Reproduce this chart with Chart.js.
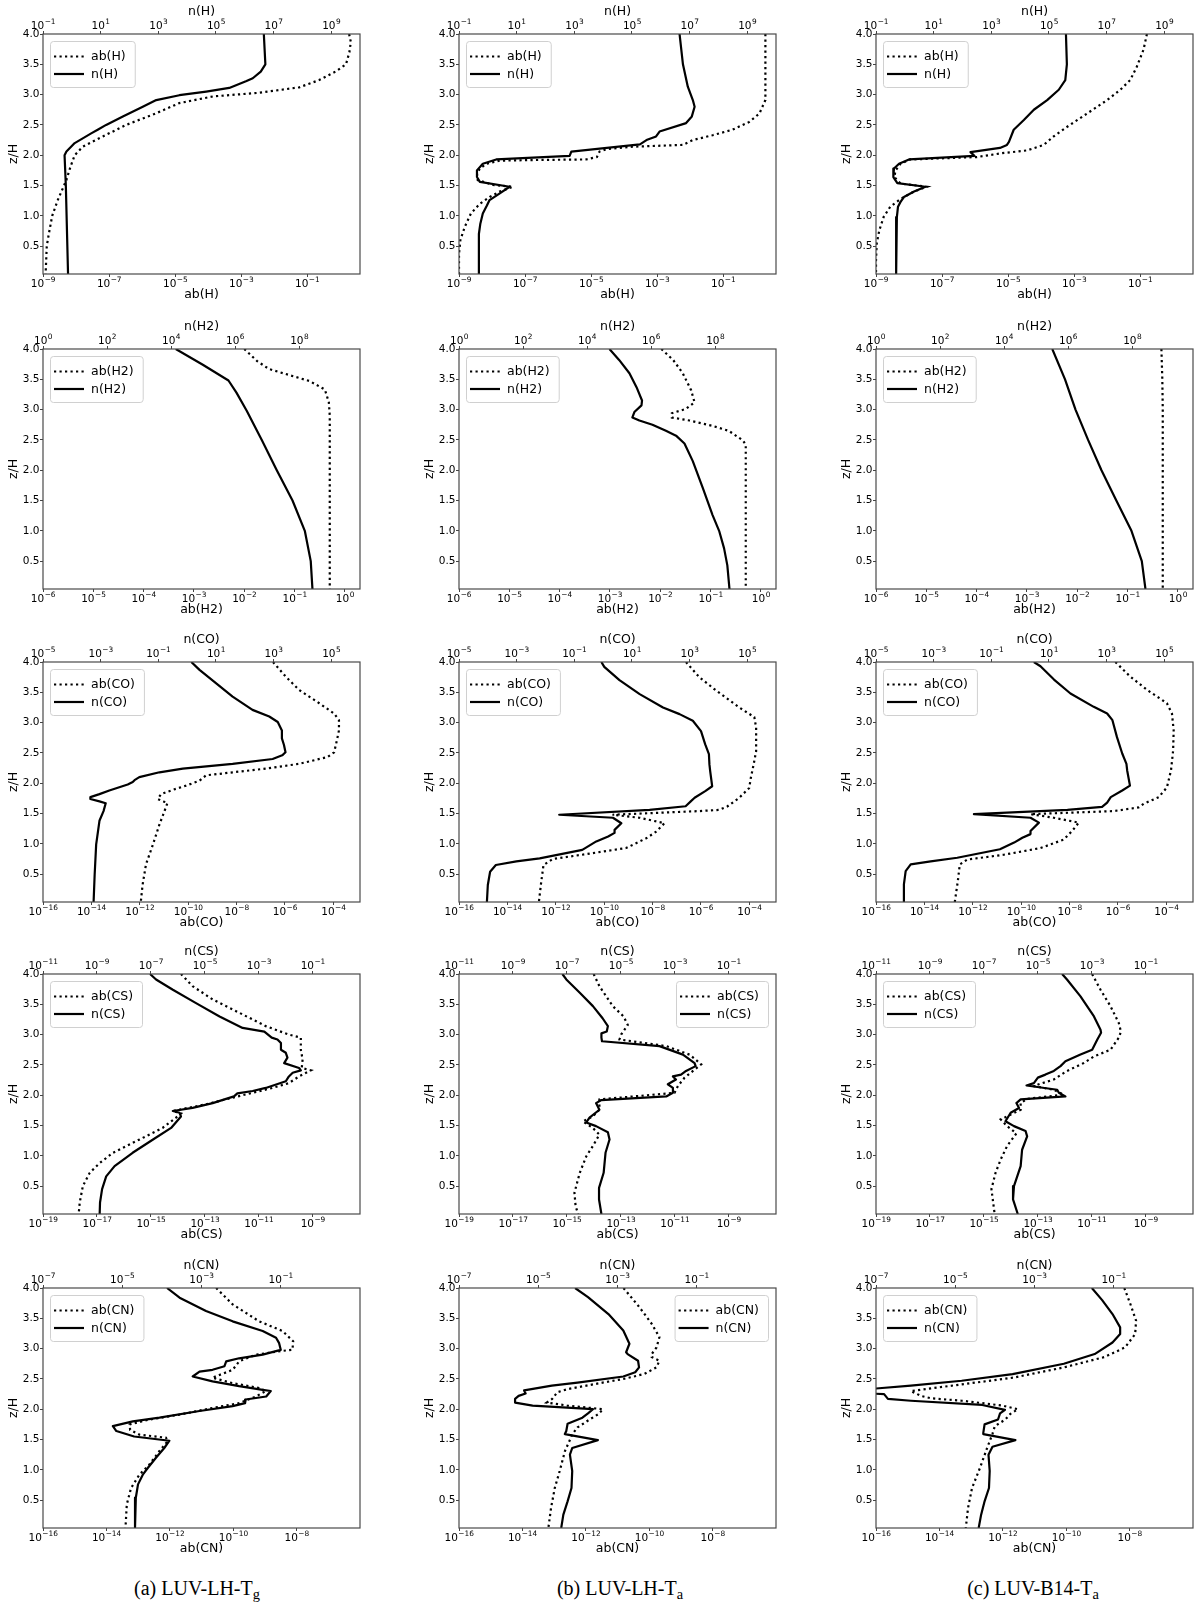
<!DOCTYPE html>
<html><head><meta charset="utf-8">
<script src="https://cdn.jsdelivr.net/npm/chart.js@4.4.1/dist/chart.umd.min.js"></script>
<style>
html,body{margin:0;padding:0;background:#fff;}
body{width:1200px;height:1606px;position:relative;overflow:hidden;}
canvas{position:absolute;}
.cap{position:absolute;font-family:'Liberation Serif','Times New Roman',serif;font-size:20px;line-height:24px;color:#000;transform:translateX(-50%);white-space:nowrap;}
.cap sub{font-size:0.72em;vertical-align:-0.28em;line-height:0;}
</style></head><body>
<script>
// ---------------- DATA : [z/H, value] ----------------
// Row 1 : H   (ab on bottom axis, n on top axis)
const abH_a = [[4.0,1.86],[3.87,2.1],[3.7,1.9],[3.5,1.5],[3.38,0.72],[3.24,0.23],[3.12,0.058],[3.03,3.5e-3],[2.97,1.4e-4],[2.86,1.35e-5],[2.69,2.6e-6],[2.5,3.3e-7],[2.31,6.5e-8],[2.14,1.6e-8],[2.0,9.1e-9],[1.81,6.8e-9],[1.59,5.1e-9],[1.26,2.8e-9],[1.0,1.9e-9],[0.7,1.5e-9],[0.5,1.3e-9],[0.04,1.2e-9]];
const nH_a = [[4.0,4.6e6],[3.5,5.2e6],[3.38,3.6e6],[3.27,1.9e6],[3.22,1.1e6],[3.11,2.9e5],[3.05,4.6e4],[2.99,5.4e3],[2.91,850],[2.8,290],[2.64,59],[2.5,15.5],[2.42,7.9],[2.36,4.7],[2.2,1.26],[2.06,0.65],[2.0,0.56],[1.5,0.62],[0.04,0.74]];
const abH_b = [[4.0,1.9],[2.91,1.9],[2.69,1.26],[2.55,0.62],[2.42,0.19],[2.33,0.048],[2.25,0.012],[2.17,6e-3],[2.14,1.8e-4],[2.1,2.9e-5],[2.06,1.8e-5],[1.97,1.5e-5],[1.93,7e-6],[1.92,1.7e-7],[1.91,1.7e-8],[1.86,6.8e-9],[1.78,4.3e-9],[1.7,3.5e-9],[1.59,3.7e-9],[1.51,1.07e-8],[1.48,4.3e-8],[1.4,1.7e-8],[1.31,8.5e-9],[1.2,4.3e-9],[1.04,2.3e-9],[0.82,1.5e-9],[0.6,1.1e-9],[0.37,1.0e-9],[0.04,1.0e-9]];
const nH_b = [[4.0,4.5e6],[3.5,5.9e6],[3.13,8.7e6],[2.91,1.3e7],[2.8,1.5e7],[2.64,1.2e7],[2.53,7.6e6],[2.39,9.1e5],[2.31,6.9e5],[2.25,3.2e5],[2.18,1.9e5],[2.06,790],[1.99,690],[1.93,1.96],[1.86,0.67],[1.75,0.42],[1.64,0.42],[1.56,0.53],[1.48,5.7],[1.37,2.6],[1.26,1.15],[1.17,0.93],[1.04,0.67],[0.87,0.55],[0.7,0.49],[0.04,0.49]];
const abH_c = [[4.0,0.16],[3.74,0.126],[3.46,0.079],[3.24,0.05],[3.08,0.025],[2.91,0.01],[2.69,2.5e-3],[2.47,6.2e-4],[2.31,2.4e-4],[2.17,1.2e-4],[2.08,3.8e-5],[2.03,5.9e-6],[1.97,1.15e-6],[1.93,1.1e-8],[1.86,5.6e-9],[1.75,3.9e-9],[1.64,3.6e-9],[1.53,5.6e-9],[1.48,3.5e-8],[1.4,1.4e-8],[1.28,5.6e-9],[1.15,2.7e-9],[0.98,1.7e-9],[0.76,1.26e-9],[0.54,1.05e-9],[0.26,1.0e-9],[0.04,1.0e-9]];
const nH_c = [[4.0,3.9e5],[3.5,4.2e5],[3.24,3.7e5],[3.08,2.2e5],[2.91,8.7e4],[2.75,3.0e4],[2.58,1.35e4],[2.42,6e3],[2.22,4.1e3],[2.17,3.5e3],[2.12,2e3],[2.05,190],[1.99,260],[1.93,1.4],[1.86,0.63],[1.78,0.42],[1.64,0.4],[1.54,0.55],[1.48,5.2],[1.4,2.1],[1.31,0.93],[1.23,0.71],[1.15,0.58],[0.98,0.53],[0.82,0.5],[0.04,0.5]];
// Row 2 : H2
const abH2_a = [[4.0,0.01],[3.8,0.018],[3.67,0.031],[3.47,0.2],[3.33,0.4],[3.12,0.48],[2.9,0.5],[0.04,0.5]];
const nH2_a = [[4.0,1.4e4],[3.74,9.8e4],[3.48,6.2e5],[3.28,1.1e6],[2.98,2.3e6],[2.5,6.8e6],[2.0,2e7],[1.5,6.2e7],[1.0,1.5e8],[0.5,2.3e8],[0.04,2.6e8]];
const abH2_b = [[4.0,0.0105],[3.82,0.018],[3.6,0.028],[3.32,0.041],[3.12,0.048],[3.01,0.032],[2.94,0.017],[2.87,0.017],[2.82,0.038],[2.73,0.11],[2.65,0.23],[2.49,0.44],[2.42,0.5],[0.04,0.5]];
const nH2_b = [[4.0,5.0e4],[3.82,1.0e5],[3.6,2.1e5],[3.37,3.5e5],[3.15,5.2e5],[3.07,5.0e5],[2.96,3.0e5],[2.87,2.6e5],[2.82,4.3e5],[2.75,1.1e6],[2.65,2.9e6],[2.57,6.0e6],[2.44,1.1e7],[2.15,2.0e7],[1.71,4.1e7],[1.26,8.3e7],[0.99,1.35e8],[0.71,1.9e8],[0.43,2.4e8],[0.04,2.8e8]];
const abH2_c = [[4.0,0.47],[3.5,0.49],[3.0,0.5],[0.04,0.5]];
const nH2_c = [[4.0,3.2e5],[3.5,8e5],[3.0,1.7e6],[2.5,4.2e6],[2.0,1.1e7],[1.5,3.2e7],[1.0,9.5e7],[0.5,2.0e8],[0.04,2.6e8]];
// Row 3 : CO
const abCO_a = [[4.0,3.2e-7],[3.76,1.07e-6],[3.54,3.8e-6],[3.32,2.6e-5],[3.15,1.07e-4],[3.04,1.7e-4],[2.87,1.7e-4],[2.65,1.3e-4],[2.51,1.07e-4],[2.43,5.6e-5],[2.32,3.8e-6],[2.24,1.6e-7],[2.18,6.9e-9],[2.13,5.5e-10],[2.04,2.9e-10],[1.96,8.1e-11],[1.89,2.3e-11],[1.82,7.6e-12],[1.74,5.5e-12],[1.7,8.9e-12],[1.68,1.4e-11],[1.54,1.05e-11],[1.32,6.5e-12],[0.99,3.5e-12],[0.66,1.8e-12],[0.32,1.3e-12],[0.04,1.1e-12]];
const nCO_a = [[4.0,1.4],[3.87,2.7],[3.65,10],[3.43,38],[3.21,186],[3.1,710],[3.01,1.4e3],[2.87,1.95e3],[2.74,1.95e3],[2.63,2.3e3],[2.51,2.6e3],[2.46,2e3],[2.4,930],[2.32,38],[2.24,0.71],[2.18,0.11],[2.1,0.022],[2.05,0.015],[2.02,0.013],[1.98,8.7e-3],[1.88,2e-3],[1.82,9.1e-4],[1.77,4.4e-4],[1.74,4.4e-4],[1.7,9.1e-4],[1.67,1.5e-3],[1.54,1.26e-3],[1.38,9.1e-4],[0.99,7e-4],[0.49,6.2e-4],[0.04,5.7e-4]];
const abCO_b = [[4.0,2.4e-7],[3.75,8.5e-7],[3.53,4.2e-6],[3.25,3.8e-5],[3.09,1.6e-4],[2.92,1.9e-4],[2.53,1.9e-4],[2.31,1.5e-4],[2.09,1.15e-4],[1.92,9.8e-5],[1.76,3.8e-5],[1.62,1.26e-5],[1.56,5.7e-6],[1.54,8.5e-7],[1.48,2.2e-10],[1.43,2.9e-9],[1.34,3.1e-8],[1.2,1.4e-8],[1.09,5.4e-9],[0.93,8e-10],[0.83,1.8e-11],[0.75,7.5e-13],[0.65,3.1e-13],[0.37,2.5e-13],[0.04,2e-13]];
const nCO_b = [[4.0,0.87],[3.92,1.1],[3.7,3.7],[3.47,18.6],[3.25,120],[3.14,450],[3.03,1.3e3],[2.86,2.5e3],[2.64,3.5e3],[2.48,4.7e3],[2.31,4.9e3],[2.2,5.2e3],[1.95,6.1e3],[1.87,3.5e3],[1.76,1.5e3],[1.7,1.1e3],[1.62,730],[1.56,41],[1.48,0.03],[1.43,2.2],[1.34,4.3],[1.23,2.5],[1.18,2.5],[1.12,1.5],[1.04,0.58],[0.9,0.19],[0.76,6.3e-3],[0.71,9.8e-4],[0.65,1.9e-4],[0.54,1.2e-4],[0.32,1.0e-4],[0.04,9.3e-5]];
const abCO_c = [[4.0,7.8e-7],[3.76,3.2e-6],[3.54,1.6e-5],[3.32,1.05e-4],[3.15,1.7e-4],[2.87,2e-4],[2.54,1.9e-4],[2.21,1.55e-4],[1.93,1.05e-4],[1.77,4.8e-5],[1.66,1.15e-5],[1.6,7.1e-6],[1.54,6.6e-7],[1.49,2.4e-10],[1.43,2.2e-9],[1.35,2.4e-8],[1.21,1.26e-8],[1.07,5.7e-9],[0.93,6.3e-10],[0.82,1.9e-11],[0.74,5.9e-13],[0.66,2.9e-13],[0.38,2.4e-13],[0.04,1.8e-13]];
const nCO_c = [[4.0,3.0],[3.93,5.1],[3.71,15],[3.48,56],[3.26,360],[3.15,1.05e3],[3.04,1.6e3],[2.76,2.3e3],[2.49,3.5e3],[2.32,4.9e3],[2.21,5.2e3],[1.96,6.5e3],[1.88,3.5e3],[1.77,1.4e3],[1.68,1.05e3],[1.61,700],[1.56,44],[1.49,0.025],[1.43,2.3],[1.35,4.5],[1.21,2.3],[1.16,2.3],[1.1,1.2],[1.02,0.62],[0.91,0.2],[0.77,6.6e-3],[0.71,7.9e-4],[0.66,1.6e-4],[0.55,1.07e-4],[0.33,9.3e-5],[0.04,9.3e-5]];
// Row 4 : CS
const abCS_a = [[4.0,1.3e-14],[3.8,3.5e-14],[3.58,1.95e-13],[3.36,1.9e-12],[3.14,1.8e-11],[3.0,1.3e-10],[2.95,3.6e-10],[2.75,3.6e-10],[2.59,4.2e-10],[2.45,3.9e-10],[2.41,8.5e-10],[2.31,3.1e-10],[2.2,1.3e-10],[2.12,3.2e-11],[2.04,5.9e-12],[1.96,1.07e-12],[1.85,1.1e-13],[1.74,6.5e-15],[1.7,1.3e-14],[1.63,8.5e-15],[1.46,2.7e-15],[1.27,3.8e-16],[1.05,3.9e-17],[0.88,1.26e-17],[0.72,5.4e-18],[0.5,3e-18],[0.23,2.3e-18],[0.04,2.1e-18]];
const nCS_a = [[4.0,9.3e-8],[3.91,1.55e-7],[3.74,6.5e-7],[3.52,4.7e-6],[3.3,3.5e-5],[3.11,2.5e-4],[3.05,1.6e-3],[2.95,3e-3],[2.92,4.9e-3],[2.86,6.6e-3],[2.75,6.6e-3],[2.7,0.01],[2.62,0.0115],[2.53,8.7e-3],[2.45,0.031],[2.41,0.036],[2.37,0.018],[2.31,0.013],[2.23,0.01],[2.12,1.8e-3],[2.07,5.9e-4],[2.03,1.6e-4],[1.98,1.2e-4],[1.87,1.95e-5],[1.79,3.5e-6],[1.74,6.5e-7],[1.71,1.15e-6],[1.65,1.3e-6],[1.46,5.6e-7],[1.27,1.2e-7],[1.05,2.1e-8],[0.83,4.5e-9],[0.66,2.2e-9],[0.45,1.55e-9],[0.23,1.3e-9],[0.04,1.26e-9]];
const abCS_b = [[4.0,9.8e-15],[3.8,1.6e-14],[3.47,5e-14],[3.3,1.26e-13],[3.16,1.8e-13],[3.0,1.02e-13],[2.92,8.9e-14],[2.81,4.8e-12],[2.67,3.5e-11],[2.51,9.5e-11],[2.4,4.7e-11],[2.29,2.3e-11],[2.15,1.3e-11],[2.04,9.8e-12],[1.93,1.6e-14],[1.76,1.6e-14],[1.65,9.1e-15],[1.57,3.9e-15],[1.46,9.1e-15],[1.35,1.6e-14],[1.16,9.1e-15],[0.99,5.2e-15],[0.72,3e-15],[0.39,1.9e-15],[0.17,2.1e-15],[0.04,2.6e-15]];
const nCS_b = [[4.0,6.8e-8],[3.91,9.5e-8],[3.69,3e-7],[3.47,9.2e-7],[3.27,2.1e-6],[3.14,3.3e-6],[3.05,3e-6],[3.02,1.9e-6],[2.95,1.9e-6],[2.89,2e-6],[2.81,2.7e-4],[2.67,2e-3],[2.53,5.4e-3],[2.48,5.9e-3],[2.4,2.6e-3],[2.34,1.7e-3],[2.31,8.5e-4],[2.26,1.1e-3],[2.18,5.5e-4],[2.12,8.5e-4],[2.04,8.5e-4],[1.98,4.8e-4],[1.92,1.9e-6],[1.87,1.2e-6],[1.76,1.6e-6],[1.63,6.9e-7],[1.55,5.2e-7],[1.49,1.2e-6],[1.39,3.3e-6],[1.27,3.8e-6],[1.05,2.7e-6],[0.72,2.3e-6],[0.47,1.55e-6],[0.28,1.55e-6],[0.04,1.9e-6]];
const abCS_c = [[4.0,1.02e-11],[3.74,2.1e-11],[3.47,4.9e-11],[3.19,1.0e-10],[3.05,1.2e-10],[2.95,1.0e-10],[2.75,4.9e-11],[2.64,1.2e-11],[2.53,5e-12],[2.4,1.2e-12],[2.26,3.9e-13],[2.19,1.26e-13],[2.15,7.1e-14],[2.09,3.9e-13],[2.01,9.1e-13],[1.94,4e-14],[1.87,2.3e-14],[1.76,2.3e-14],[1.6,4.2e-15],[1.49,7.2e-15],[1.37,1.6e-14],[1.16,7.2e-15],[0.94,4.2e-15],[0.72,2.7e-15],[0.45,1.9e-15],[0.23,2.2e-15],[0.04,2.5e-15]];
const nCS_c = [[4.0,7.9e-5],[3.91,1.2e-4],[3.63,3.8e-4],[3.3,1.2e-3],[3.08,2.1e-3],[3.03,2.2e-3],[2.92,1.6e-3],[2.75,1.03e-3],[2.67,3.8e-4],[2.56,1.05e-4],[2.48,6.9e-5],[2.4,3.9e-5],[2.34,1.9e-5],[2.29,1e-5],[2.2,7.1e-6],[2.16,3.8e-6],[2.09,5.2e-5],[2.04,6e-5],[1.98,1.05e-4],[1.93,2.3e-6],[1.87,1.6e-6],[1.79,2e-6],[1.71,9.8e-7],[1.57,6.3e-7],[1.49,1.3e-6],[1.41,3.5e-6],[1.32,4e-6],[1.1,2.6e-6],[0.83,2.3e-6],[0.5,1.3e-6],[0.28,1.2e-6],[0.04,1.8e-6]];
// Row 5 : CN
const abCN_a = [[4.0,2.9e-11],[3.73,9.6e-11],[3.45,6.6e-10],[3.29,3.6e-9],[3.12,7.8e-9],[2.98,7.4e-9],[2.96,3.2e-9],[2.9,5.2e-10],[2.79,1.55e-10],[2.65,9.6e-11],[2.52,2.2e-11],[2.43,9.6e-11],[2.35,6.6e-10],[2.3,1.07e-9],[2.21,5.2e-10],[2.1,1.55e-10],[2.02,2.2e-11],[1.91,2e-12],[1.83,2.3e-13],[1.75,5.4e-14],[1.66,5.6e-14],[1.58,1.1e-13],[1.53,7.6e-13],[1.47,8.5e-13],[1.31,4.7e-13],[1.09,2.3e-13],[0.92,1.1e-13],[0.7,6e-14],[0.43,4.4e-14],[0.04,4e-14]];
const nCN_a = [[4.0,1.35e-4],[3.84,2.8e-4],[3.62,1.3e-3],[3.45,6.1e-3],[3.29,0.035],[3.18,0.076],[3.09,0.091],[2.98,0.1],[2.9,0.035],[2.84,8.9e-3],[2.79,4.2e-3],[2.71,3.8e-3],[2.65,1.9e-3],[2.62,8.9e-4],[2.54,6e-4],[2.46,1.9e-3],[2.38,8.9e-3],[2.32,0.035],[2.3,0.056],[2.21,0.043],[2.16,0.013],[2.1,0.0126],[2.05,6.1e-3],[1.97,8.9e-4],[1.86,8.7e-5],[1.8,1.85e-5],[1.72,5.8e-6],[1.64,7.1e-6],[1.55,2.0e-5],[1.48,1.55e-4],[1.36,1.15e-4],[1.2,7.1e-5],[1.03,4.4e-5],[0.92,3.3e-5],[0.76,2.5e-5],[0.54,2.2e-5],[0.26,2.1e-5],[0.04,2.1e-5]];
const abCN_b = [[4.0,1.55e-11],[3.69,4.8e-11],[3.41,1.2e-10],[3.19,2.1e-10],[3.02,1.7e-10],[2.91,1.2e-10],[2.86,1.2e-10],[2.8,2.1e-10],[2.69,1.7e-10],[2.58,6.9e-11],[2.5,1.55e-11],[2.41,1.7e-12],[2.33,2.6e-13],[2.28,1.26e-13],[2.17,8.7e-14],[2.11,5.9e-14],[2.06,2.6e-13],[2.0,3.5e-12],[1.92,2.5e-12],[1.81,1.15e-12],[1.7,5.5e-13],[1.59,3.8e-13],[1.31,2.2e-13],[0.98,1.5e-13],[0.7,1.05e-13],[0.37,8e-14],[0.04,6.6e-14]];
const nCN_b = [[4.0,8.5e-5],[3.85,1.8e-4],[3.57,5.9e-4],[3.3,1.4e-3],[3.08,2e-3],[2.94,1.65e-3],[2.91,1.8e-3],[2.8,3.3e-3],[2.69,3.5e-3],[2.61,2.8e-3],[2.54,1.4e-3],[2.44,9.8e-5],[2.39,2.2e-5],[2.31,4.4e-6],[2.26,4.8e-6],[2.22,3.2e-6],[2.17,2.6e-6],[2.11,2.6e-6],[2.06,7.2e-6],[2.0,2.4e-4],[1.93,1.8e-4],[1.86,1.3e-4],[1.76,5.5e-5],[1.64,5.1e-5],[1.59,4.7e-5],[1.49,3.2e-4],[1.36,7.2e-5],[1.25,6.3e-5],[0.98,7.2e-5],[0.7,6.9e-5],[0.48,5.5e-5],[0.26,4.3e-5],[0.04,3.8e-5]];
const abCN_c = [[4.0,6.8e-9],[3.74,1.05e-8],[3.46,1.6e-8],[3.24,1.5e-8],[3.02,7.2e-9],[2.86,1.6e-9],[2.69,8.5e-11],[2.52,2.1e-12],[2.41,5.1e-14],[2.3,1.26e-15],[2.22,2.6e-15],[2.18,5.5e-15],[2.14,5.1e-14],[2.06,9.8e-13],[2.0,3e-12],[1.92,1.7e-12],[1.83,1.2e-12],[1.72,5.6e-13],[1.59,4.7e-13],[1.36,3.2e-13],[1.03,1.9e-13],[0.7,1.07e-13],[0.37,8e-14],[0.04,6.8e-14]];
const nCN_c = [[4.0,0.028],[3.8,0.051],[3.57,0.093],[3.35,0.145],[3.24,0.145],[3.1,0.093],[2.91,0.033],[2.75,5.5e-3],[2.58,2.8e-4],[2.47,1.45e-5],[2.39,7.6e-7],[2.33,6.0e-8],[2.26,6.0e-8],[2.25,1.6e-7],[2.17,2e-7],[2.14,7.6e-7],[2.07,4.8e-5],[1.99,1.8e-4],[1.93,1.35e-4],[1.83,1.2e-4],[1.75,5.5e-5],[1.61,5.1e-5],[1.59,5.1e-5],[1.49,3.3e-4],[1.38,8.7e-5],[1.25,6.9e-5],[0.98,7.4e-5],[0.7,7.1e-5],[0.48,5.5e-5],[0.26,4.5e-5],[0.04,3.9e-5]];

// ---------------- AXES / LABELS ----------------
const speciesList = ['H','H2','CO','CS','CN'];
const abRangeExp = {H:[-9,0.6], H2:[-6,0.3], CO:[-16,-2.9], CS:[-19,-7.25], CN:[-16,-6]};
const nRangeExp  = {H:[-1,10], H2:[0,9.9], CO:[-5,6], CS:[-11,0.75], CN:[-7,1]};
const abTickExp = {H:[-9,-7,-5,-3,-1], H2:[-6,-5,-4,-3,-2,-1,0], CO:[-16,-14,-12,-10,-8,-6,-4], CS:[-19,-17,-15,-13,-11,-9], CN:[-16,-14,-12,-10,-8]};
const nTickExp  = {H:[-1,1,3,5,7,9], H2:[0,2,4,6,8], CO:[-5,-3,-1,1,3,5], CS:[-11,-9,-7,-5,-3,-1], CN:[-7,-5,-3,-1]};
const zTicks = [0.5,1.0,1.5,2.0,2.5,3.0,3.5,4.0];
const zRange = [0.04, 4.0];
const captionMain = ['(a) LUV-LH-T','(b) LUV-LH-T','(c) LUV-B14-T'];
const captionSub = ['g','a','a'];

const abSeries = {H:[abH_a,abH_b,abH_c], H2:[abH2_a,abH2_b,abH2_c], CO:[abCO_a,abCO_b,abCO_c], CS:[abCS_a,abCS_b,abCS_c], CN:[abCN_a,abCN_b,abCN_c]};
const nSeries  = {H:[nH_a,nH_b,nH_c], H2:[nH2_a,nH2_b,nH2_c], CO:[nCO_a,nCO_b,nCO_c], CS:[nCS_a,nCS_b,nCS_c], CN:[nCN_a,nCN_b,nCN_c]};
const legendRight = {'CS1':true, 'CN1':true};

// ---------------- LAYOUT ----------------
const plotLefts = [43, 459, 876];
const plotTops = [34, 349, 662, 974, 1288];
const plotW = 317, plotH = 240;
const yBoxW = 37, topBoxH = 30, botBoxH = 28, rightPad = 6;
const FONT = '"DejaVu Sans"';
const TICK_PX = 10.5, SUP_PX = 7.4, TITLE_PX = 12.5;

Chart.defaults.font.family = "'DejaVu Sans', sans-serif";
Chart.defaults.color = '#000';
Chart.defaults.animation = false;

const framePlugin = {
  id: 'frame',
  afterDatasetsDraw(chart) {
    const {ctx, chartArea: a} = chart;
    ctx.save();
    ctx.strokeStyle = '#4a4a4a';
    ctx.lineWidth = 1.2;
    ctx.strokeRect(a.left, a.top, a.right - a.left, a.bottom - a.top);
    ctx.restore();
  }
};
// mathtext-like "10^e" labels placed at the log scale tick pixels
const mathTickPlugin = {
  id: 'mathTicks',
  afterDraw(chart) {
    const {ctx, chartArea: a} = chart;
    ctx.save();
    ctx.fillStyle = '#000';
    ctx.textAlign = 'left';
    ctx.textBaseline = 'alphabetic';
    ['x', 'x2'].forEach(id => {
      const s = chart.scales[id];
      const isBottom = s.options.position === 'bottom';
      const baseY = isBottom ? a.bottom + 13.3 : a.top - 5.2;
      s.ticks.forEach(t => {
        const px = s.getPixelForValue(t.value);
        const e = Math.round(Math.log10(t.value));
        const es = (e < 0 ? '\u2212' : '') + Math.abs(e);
        ctx.font = TICK_PX + 'px ' + FONT;
        const w1 = ctx.measureText('10').width;
        ctx.font = SUP_PX + 'px ' + FONT;
        const w2 = ctx.measureText(es).width;
        const x0 = px - (w1 + w2) / 2;
        ctx.font = TICK_PX + 'px ' + FONT;
        ctx.fillText('10', x0, baseY);
        ctx.font = SUP_PX + 'px ' + FONT;
        ctx.fillText(es, x0 + w1 + 0.4, baseY - 5);
      });
    });
    ctx.restore();
  }
};
const legendPlugin = {
  id: 'boxLegend',
  afterDraw(chart, args, opts) {
    const {ctx, chartArea: a} = chart;
    ctx.save();
    ctx.font = '12.5px ' + FONT;
    const ds = chart.data.datasets;
    let tw = 0;
    ds.forEach(d => { tw = Math.max(tw, ctx.measureText(d.label).width); });
    const w = 41 + tw + 9, h = 46;
    const x = opts.right ? a.right - 8 - w : a.left + 7;
    const y = a.top + 7;
    ctx.beginPath();
    if (ctx.roundRect) ctx.roundRect(x + 0.5, y + 0.5, w, h, 3); else ctx.rect(x + 0.5, y + 0.5, w, h);
    ctx.fillStyle = 'rgba(255,255,255,0.85)';
    ctx.fill();
    ctx.strokeStyle = '#d0d0d0';
    ctx.lineWidth = 1;
    ctx.stroke();
    ds.forEach((d, i) => {
      const ly = y + 15.5 + i * 17.5;
      ctx.beginPath();
      ctx.setLineDash(d.borderDash || []);
      ctx.lineWidth = d.borderWidth;
      ctx.strokeStyle = d.borderColor;
      ctx.moveTo(x + 4, ly);
      ctx.lineTo(x + 34, ly);
      ctx.stroke();
      ctx.setLineDash([]);
      ctx.fillStyle = '#000';
      ctx.textBaseline = 'middle';
      ctx.textAlign = 'left';
      ctx.fillText(d.label, x + 41, ly + 0.5);
    });
    ctx.restore();
  }
};

function toXY(arr) { return arr.map(p => ({x: p[1], y: p[0]})); }

speciesList.forEach((sp, r) => {
  for (let c = 0; c < 3; c++) {
    const cv = document.createElement('canvas');
    const W = yBoxW + plotW + rightPad, H = topBoxH + plotH + botBoxH;
    cv.width = W; cv.height = H;
    cv.style.left = (plotLefts[c] - yBoxW) + 'px';
    cv.style.top = (plotTops[r] - topBoxH) + 'px';
    cv.style.width = W + 'px'; cv.style.height = H + 'px';
    document.body.appendChild(cv);
    const tickGrid = {display: true, drawOnChartArea: false, drawTicks: true, tickLength: 3, color: '#444', lineWidth: 1};
    new Chart(cv.getContext('2d'), {
      type: 'scatter',
      data: {
        datasets: [
          {label: 'ab(' + sp + ')', data: toXY(abSeries[sp][c]), xAxisID: 'x', yAxisID: 'y', showLine: true,
           borderColor: '#000', borderWidth: 2.2, borderDash: [2.2, 3.3], pointRadius: 0, fill: false, tension: 0},
          {label: 'n(' + sp + ')', data: toXY(nSeries[sp][c]), xAxisID: 'x2', yAxisID: 'y', showLine: true,
           borderColor: '#000', borderWidth: 2.2, borderJoinStyle: 'round', pointRadius: 0, fill: false, tension: 0}
        ]
      },
      options: {
        responsive: false, devicePixelRatio: 1, animation: false,
        layout: {padding: {left: 0, top: 0, right: rightPad, bottom: 0}, autoPadding: false},
        plugins: {legend: {display: false}, tooltip: {enabled: false}, boxLegend: {right: !!legendRight[sp + c]}},
        scales: {
          x: {
            type: 'logarithmic', position: 'bottom',
            min: Math.pow(10, abRangeExp[sp][0]), max: Math.pow(10, abRangeExp[sp][1]),
            afterBuildTicks: s => { s.ticks = abTickExp[sp].map(e => ({value: Math.pow(10, e)})); },
            ticks: {display: false, autoSkip: false},
            grid: tickGrid, border: {display: false},
            title: {display: true, text: 'ab(' + sp + ')', font: {size: TITLE_PX}, padding: 0},
            afterFit: s => { s.height = botBoxH; s.paddingLeft = 0; s.paddingRight = 0; }
          },
          x2: {
            type: 'logarithmic', position: 'top',
            min: Math.pow(10, nRangeExp[sp][0]), max: Math.pow(10, nRangeExp[sp][1]),
            afterBuildTicks: s => { s.ticks = nTickExp[sp].map(e => ({value: Math.pow(10, e)})); },
            ticks: {display: false, autoSkip: false},
            grid: tickGrid, border: {display: false},
            title: {display: true, text: 'n(' + sp + ')', font: {size: TITLE_PX}, padding: 0},
            afterFit: s => { s.height = topBoxH; s.paddingLeft = 0; s.paddingRight = 0; }
          },
          y: {
            type: 'linear', position: 'left', min: zRange[0], max: zRange[1],
            afterBuildTicks: s => { s.ticks = zTicks.map(v => ({value: v})); },
            ticks: {callback: v => Number(v).toFixed(1), autoSkip: false, padding: 0.5, font: {size: TICK_PX}},
            grid: tickGrid, border: {display: false},
            title: {display: true, text: 'z/H', font: {size: TITLE_PX}, padding: 0},
            afterFit: s => { s.width = yBoxW; s.paddingTop = 0; s.paddingBottom = 0; }
          }
        }
      },
      plugins: [framePlugin, mathTickPlugin, legendPlugin]
    });
  }
});

const capX = [197, 620, 1033];
for (let c = 0; c < 3; c++) {
  const d = document.createElement('div');
  d.className = 'cap';
  d.style.left = capX[c] + 'px';
  d.style.top = '1576px';
  d.innerHTML = captionMain[c] + '<sub>' + captionSub[c] + '</sub>';
  document.body.appendChild(d);
}
</script>
</body></html>
